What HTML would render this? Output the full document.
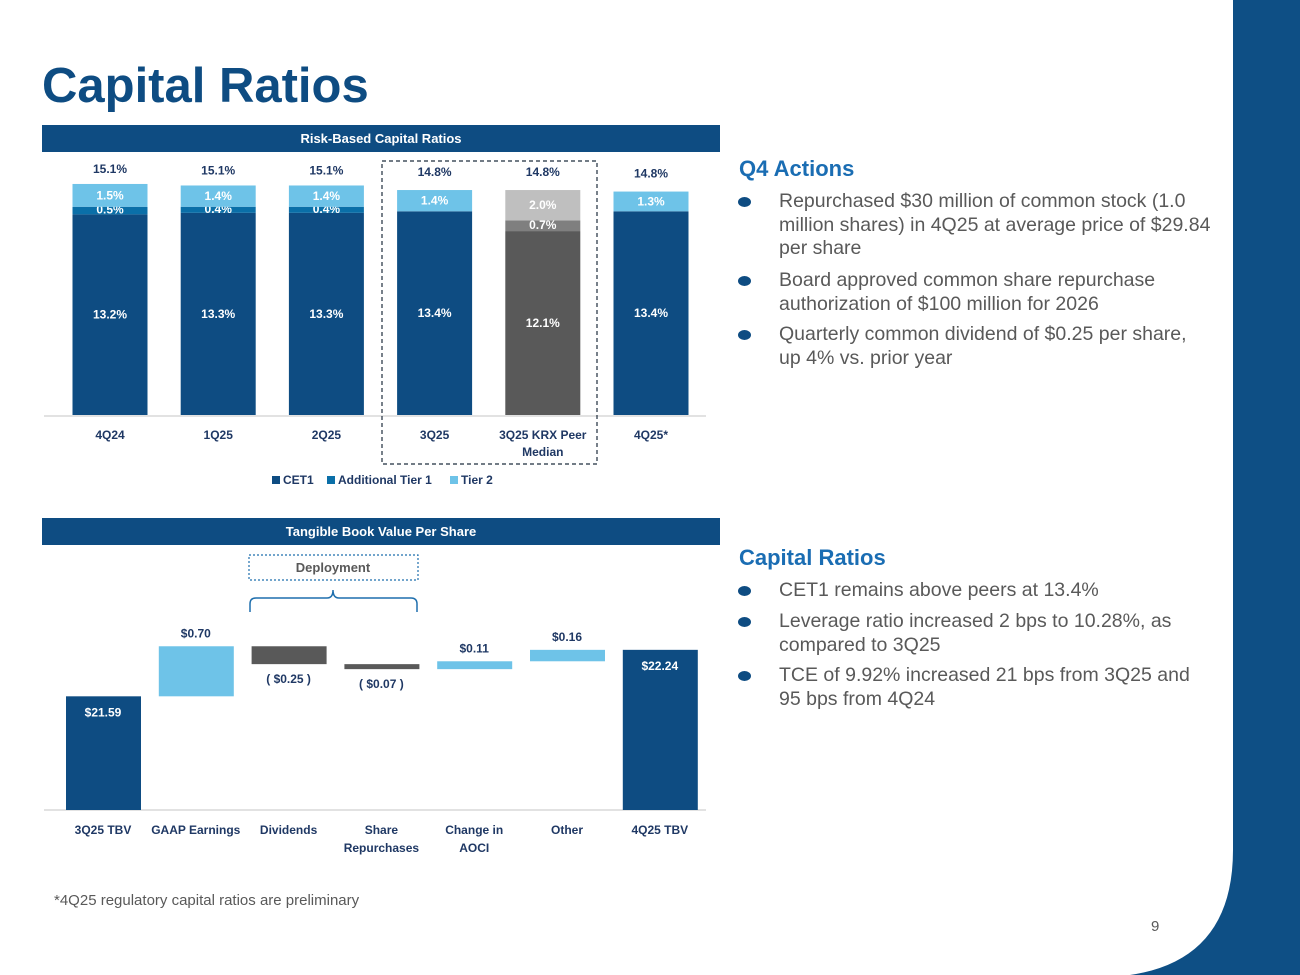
<!DOCTYPE html>
<html><head><meta charset="utf-8"><style>
*{margin:0;padding:0;box-sizing:border-box}
body{width:1300px;height:975px;position:relative;background:#fff;font-family:"Liberation Sans",sans-serif;overflow:hidden}
.abs{position:absolute}
.hdr{position:absolute;left:42px;width:678px;height:27px;background:#0e4c82;color:#fff;font:bold 13px "Liberation Sans",sans-serif;text-align:center;line-height:27px}
.sec{position:absolute;left:739px;color:#1a6db3;font:bold 22px "Liberation Sans",sans-serif}
.bl{position:absolute;left:779px;width:450px;color:#595959;font:19.5px/23.5px "Liberation Sans",sans-serif;white-space:nowrap}
.dot{position:absolute;left:738px;width:13px;height:10px;border-radius:50%;background:#0e4c82}
</style></head><body>
<svg class="abs" style="left:0;top:0" width="1300" height="975">
<path d="M1233 0 H1300 V975 H1130 Q1233 960 1233 850 Z" fill="#0e4f85"/>
</svg>
<div class="abs" style="left:42px;top:58px;font:bold 49px 'Liberation Sans',sans-serif;color:#0e4c82">Capital Ratios</div>
<div class="hdr" style="top:125px">Risk-Based Capital Ratios</div>
<div class="hdr" style="top:518px">Tangible Book Value Per Share</div>
<svg id="c1" class="abs" style="left:0;top:0" width="730" height="500"></svg>
<svg id="c2" class="abs" style="left:0;top:0" width="730" height="870"></svg>

<div class="sec" style="top:156px">Q4 Actions</div>
<div class="dot" style="top:197px"></div>
<div class="bl" style="top:190px">Repurchased $30 million of common stock (1.0<br>million shares) in 4Q25 at average price of $29.84<br>per share</div>
<div class="dot" style="top:276px"></div>
<div class="bl" style="top:269px">Board approved common share repurchase<br>authorization of $100 million for 2026</div>
<div class="dot" style="top:330px"></div>
<div class="bl" style="top:323px">Quarterly common dividend of $0.25 per share,<br>up 4% vs. prior year</div>

<div class="sec" style="top:545px">Capital Ratios</div>
<div class="dot" style="top:586px"></div>
<div class="bl" style="top:579px">CET1 remains above peers at 13.4%</div>
<div class="dot" style="top:617px"></div>
<div class="bl" style="top:610px">Leverage ratio increased 2 bps to 10.28%, as<br>compared to 3Q25</div>
<div class="dot" style="top:671px"></div>
<div class="bl" style="top:664px">TCE of 9.92% increased 21 bps from 3Q25 and<br>95 bps from 4Q24</div>

<div class="abs" style="left:54px;top:892px;font:15px 'Liberation Sans',sans-serif;color:#595959">*4Q25 regulatory capital ratios are preliminary</div>
<div class="abs" style="left:1151px;top:918px;font:15px 'Liberation Sans',sans-serif;color:#595959">9</div>

<script>
const cats1=["4Q24","1Q25","2Q25","3Q25","3Q25 KRX Peer|Median","4Q25*"];
const cet1=[13.2,13.3,13.3,13.4,12.1,13.4];
const at1=[0.5,0.4,0.4,0.0,0.7,0.0];
const tier2=[1.5,1.4,1.4,1.4,2.0,1.3];
const totals=["15.1%","15.1%","15.1%","14.8%","14.8%","14.8%"];
const cats2=["3Q25 TBV","GAAP Earnings","Dividends","Share|Repurchases","Change in|AOCI","Other","4Q25 TBV"];
const deltas=[21.59,0.70,-0.25,-0.07,0.11,0.16,22.24];
const dlabels=["$21.59","$0.70","( $0.25 )","( $0.07 )","$0.11","$0.16","$22.24"];
const NS="http://www.w3.org/2000/svg";
function mk(svg,tag,a,txt){const e=document.createElementNS(NS,tag);for(const k in a)e.setAttribute(k,a[k]);if(txt!==undefined)e.textContent=txt;svg.appendChild(e);return e;}
const F='"Liberation Sans",sans-serif';
// chart 1
const s1=document.getElementById('c1');
const y1=v=>415-v*15.2, x1=i=>110+i*108.2, bw=75;
mk(s1,'line',{x1:44,x2:706,y1:416,y2:416,stroke:'#d9d9d9','stroke-width':1.5});
mk(s1,'rect',{x:382,y:161,width:215,height:303,fill:'none',stroke:'#1f2d3d','stroke-dasharray':'4,3','stroke-width':1.2});
cats1.forEach((c,i)=>{
 const peer=i===4;
 const cols=peer?['#595959','#7f7f7f','#bfbfbf']:['#0e4c82','#0a6fa8','#6ec3e8'];
 let base=0;[[cet1,0],[at1,1],[tier2,2]].forEach(([arr,k])=>{
  const v=arr[i];if(v<=0)return;
  const r=mk(s1,'rect',{x:x1(i)-bw/2,y:y1(base+v),width:bw,height:y1(base)-y1(base+v),fill:cols[k]});
  
  
  const ty=(y1(base)+y1(base+v))/2+4+(k===1?-1:0);
  mk(s1,'text',{x:x1(i),y:ty,'text-anchor':'middle',fill:'#fff','font-family':F,'font-size':12,'font-weight':'bold'},v.toFixed(1)+'%');
  base+=v;});
 const tot=cet1[i]+at1[i]+tier2[i];
 mk(s1,'text',{x:x1(i),y:y1(tot)-(i>2?14:11),'text-anchor':'middle',fill:'#1f3864','font-family':F,'font-size':12,'font-weight':'bold'},totals[i]);
 c.split('|').forEach((l,j)=>mk(s1,'text',{x:x1(i),y:439+j*17,'text-anchor':'middle',fill:'#1f3864','font-family':F,'font-size':12,'font-weight':'bold'},l));
});
[['CET1','#0e4c82',272],['Additional Tier 1','#0a6fa8',327],['Tier 2','#6ec3e8',450]].forEach(([t,c,x])=>{
 mk(s1,'rect',{x:x,y:476,width:8,height:8,fill:c});
 mk(s1,'text',{x:x+11,y:484,fill:'#1f3864','font-family':F,'font-size':12,'font-weight':'bold'},t);
});
// chart 2
const s2=document.getElementById('c2');
const y2=v=>810-(v-20)*71.5, x2=i=>103+i*92.8;
mk(s2,'line',{x1:44,x2:706,y1:810,y2:810,stroke:'#d9d9d9','stroke-width':1.5});
let run=0;
cats2.forEach((c,i)=>{
 let top,bot,fill;
 if(i===0||i===cats2.length-1){top=y2(deltas[i]);bot=810;fill='#0e4c82';run=deltas[i];}
 else{const a=run,b=run+deltas[i];top=y2(Math.max(a,b));bot=y2(Math.min(a,b));fill=deltas[i]<0?'#595959':'#6ec3e8';run=b;}
 const r=mk(s2,'rect',{x:x2(i)-37,y:top,width:75,height:Math.max(bot-top,1),fill:fill});
 
 
 let ly,lc='#1f3864';
 if(i===0||i===cats2.length-1){ly=top+20;lc='#fff';}
 else if(deltas[i]<0){ly=bot+19;}
 else ly=top-9;
 mk(s2,'text',{x:x2(i),y:ly,'text-anchor':'middle',fill:lc,'font-family':F,'font-size':12,'font-weight':'bold'},dlabels[i]);
 c.split('|').forEach((l,j)=>mk(s2,'text',{x:x2(i),y:834+j*18,'text-anchor':'middle',fill:'#1f3864','font-family':F,'font-size':12,'font-weight':'bold'},l));
});
mk(s2,'rect',{x:249,y:555,width:169,height:25,fill:'none',stroke:'#1f6fad','stroke-dasharray':'2,2','stroke-width':1.2});
mk(s2,'text',{x:333,y:572,'text-anchor':'middle',fill:'#595959','font-family':F,'font-size':13,'font-weight':'bold'},'Deployment');
mk(s2,'path',{d:'M250 612 V604 Q250 598 256 598 H327 Q333 598 333 590 Q333 598 339 598 H411 Q417 598 417 604 V612',fill:'none',stroke:'#1f6fad','stroke-width':1.5});
</script>
</body></html>
